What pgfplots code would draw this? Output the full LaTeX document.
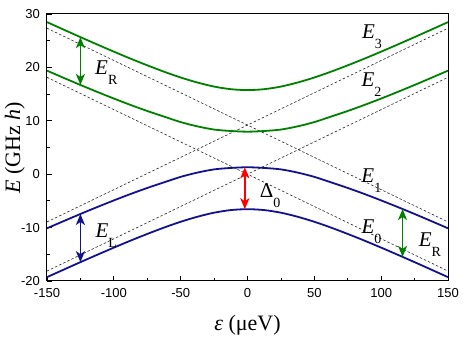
\documentclass[border=0pt]{standalone}
\usepackage{fontspec}
\setmainfont{Liberation Serif}
\setsansfont{Liberation Sans}
\usepackage{pgfplots}
\pgfplotsset{compat=1.18}
\usetikzlibrary{arrows.meta}
\definecolor{lvgreen}{RGB}{0,128,0}
\definecolor{lvblue}{RGB}{18,18,140}
\newcommand\lbl[2]{#1\raisebox{-10pt}{\fontsize{14}{14}\selectfont #2}}

\begin{document}
\begin{tikzpicture}[gap/.style={line width=1.8pt, {Stealth[length=11pt,width=9pt,inset=3pt]}-{Stealth[length=11pt,width=9pt,inset=3pt]}}]
\begin{axis}[
  scale only axis, width=401pt, height=267pt,
  xmin=-150, xmax=150, ymin=-20, ymax=30,
  xtick={-150,-100,...,150}, ytick={-20,-10,...,30},
  minor x tick num=1, minor y tick num=1,
  xtick pos=bottom, ytick pos=left, tick align=inside,
  major tick length=5pt, minor tick length=3pt,
  axis line style={line width=1pt},
  every tick/.style={line width=0.8pt, black},
  tick label style={font=\sffamily\fontsize{13}{15}\selectfont},
  /pgf/number format/assume math mode=true,
  label style={font=\fontsize{22}{26}\selectfont},
  xlabel={\textit{ε} (μeV)},
  ylabel={\textit{E} (GHz \textit{h})},
  xlabel style={at={(axis description cs:0.5,-0.165)}, anchor=center},
  ylabel style={at={(axis description cs:-0.08,0.5)}, anchor=center},
  every node/.style={inner sep=0pt},
  node font=\fontsize{21}{24}\selectfont,
]
% uncoupled levels
\addplot[black!85, line width=0.6pt, dash pattern=on 2.5pt off 2pt] coordinates {(-150,18.14)(150,-18.14)};
\addplot[black!85, line width=0.6pt, dash pattern=on 2.5pt off 2pt] coordinates {(-150,-18.14)(150,18.14)};
\addplot[black!85, line width=0.6pt, dash pattern=on 2.5pt off 2pt] coordinates {(-150,27.34)(150,-8.94)};
\addplot[black!85, line width=0.6pt, dash pattern=on 2.5pt off 2pt] coordinates {(-150,-8.94)(150,27.34)};

% E3
\addplot[lvgreen, line width=1.8pt, smooth] coordinates {
(-150,28.48)(-137.5,27.07)(-125,25.67)(-112.5,24.30)(-100,22.95)(-87.5,21.64)(-75,20.39)
(-62.5,19.20)(-50,18.11)(-37.5,17.17)(-25,16.41)(-12.5,15.92)(0,15.75)
(12.5,15.92)(25,16.41)(37.5,17.17)(50,18.11)(62.5,19.20)(75,20.39)(87.5,21.64)
(100,22.95)(112.5,24.30)(125,25.67)(137.5,27.07)(150,28.48)};
% E2
\addplot[lvgreen, line width=1.8pt, smooth] coordinates {
(-150,19.39)(-137.5,18.04)(-125,16.71)(-112.5,15.42)(-100,14.17)(-87.5,12.97)(-75,11.84)
(-62.5,10.79)(-50,9.76)(-37.5,8.96)(-25,8.36)(-12.5,8.09)(0,7.96)
(12.5,8.09)(25,8.36)(37.5,8.96)(50,9.76)(62.5,10.79)(75,11.84)(87.5,12.97)
(100,14.17)(112.5,15.42)(125,16.71)(137.5,18.04)(150,19.39)};
% E1
\addplot[lvblue, line width=1.8pt, smooth] coordinates {
(-150,-10.13)(-137.5,-8.78)(-125,-7.45)(-112.5,-6.16)(-100,-4.91)(-87.5,-3.71)(-75,-2.58)
(-62.5,-1.53)(-50,-0.50)(-37.5,0.30)(-25,0.90)(-12.5,1.17)(0,1.30)
(12.5,1.17)(25,0.90)(37.5,0.30)(50,-0.50)(62.5,-1.53)(75,-2.58)(87.5,-3.71)
(100,-4.91)(112.5,-6.16)(125,-7.45)(137.5,-8.78)(150,-10.13)};
% E0
\addplot[lvblue, line width=1.8pt, smooth] coordinates {
(-150,-19.28)(-137.5,-17.87)(-125,-16.47)(-112.5,-15.10)(-100,-13.75)(-87.5,-12.44)(-75,-11.19)
(-62.5,-10.00)(-50,-8.91)(-37.5,-7.97)(-25,-7.21)(-12.5,-6.72)(0,-6.55)
(12.5,-6.72)(25,-7.21)(37.5,-7.97)(50,-8.91)(62.5,-10.00)(75,-11.19)(87.5,-12.44)
(100,-13.75)(112.5,-15.10)(125,-16.47)(137.5,-17.87)(150,-19.28)};

% gaps
\addplot[lvgreen, gap] coordinates {(-125,16.71)(-125,25.67)};
\addplot[lvblue, gap] coordinates {(-125,-16.47)(-125,-7.45)};
\addplot[red, gap] coordinates {(-2,-6.56)(-2,1.30)};
\addplot[lvgreen, gap] coordinates {(116,-15.48)(116,-6.52)};

\node[anchor=base west] at (axis cs:80.4,25.45) {\lbl{\textit{E}}{3}};
\node[anchor=base west] at (axis cs:80.0,16.39) {\lbl{\textit{E}}{2}};
\node[anchor=base west] at (axis cs:79.9,-1.59) {\lbl{\textit{E}}{1}};
\node[anchor=base west] at (axis cs:80.0,-11.07) {\lbl{\textit{E}}{0}};
\node[anchor=base west] at (axis cs:-119.3,18.76) {\lbl{\textit{E}}{R}};
\node[anchor=base west] at (axis cs:-119.1,-11.8) {\lbl{\textit{E}}{L}};
\node[anchor=base west] at (axis cs:122.8,-13.45) {\lbl{\textit{E}}{R}};
\node[anchor=base west] at (axis cs:3.85,-4.33) {\lbl{Δ}{0}};

\coordinate (ll) at (rel axis cs:0,0);
\coordinate (ur) at (rel axis cs:1,1);
\end{axis}
\pgfresetboundingbox
\useasboundingbox ([xshift=-47pt,yshift=-58pt]ll) rectangle ([xshift=15pt,yshift=14pt]ur);
\end{tikzpicture}
\end{document}
